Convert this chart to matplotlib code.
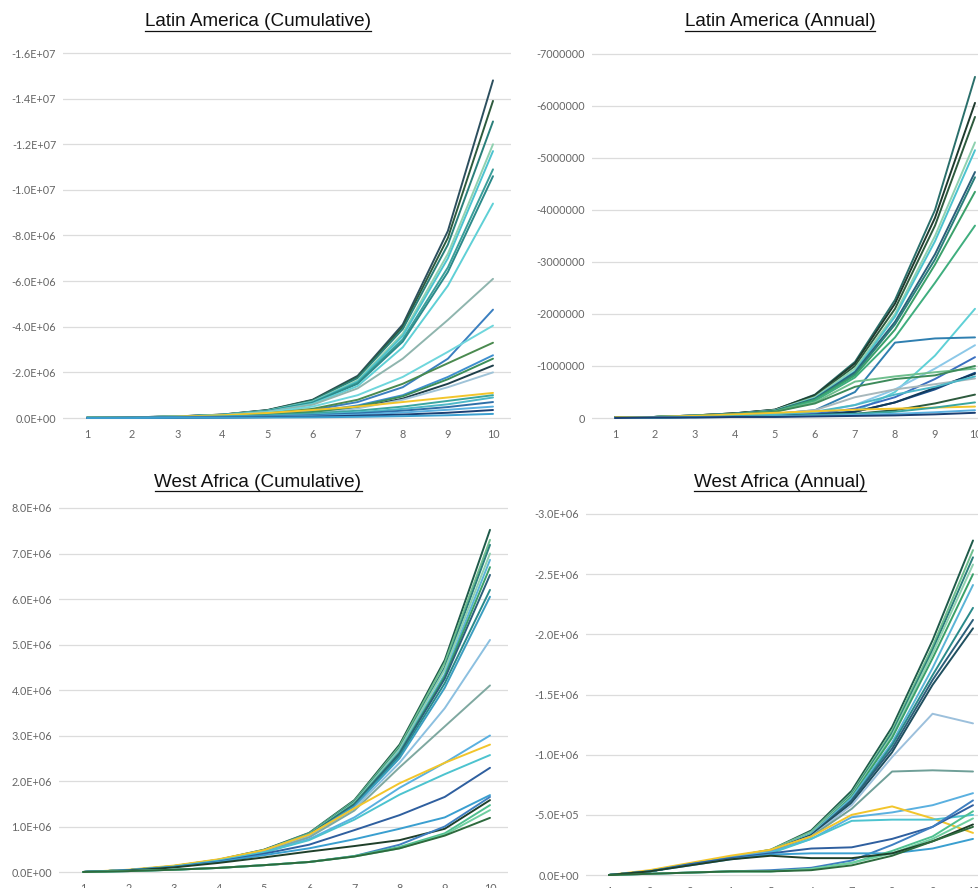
import matplotlib
matplotlib.use("Agg")
import matplotlib.pyplot as plt
from matplotlib.lines import Line2D
import numpy as np

W, H = 979, 888
years = list(range(1, 11))

# values in millions
la_cum = [
    [0.01, 0.03, 0.07, 0.15, 0.35, 0.80, 1.85, 4.10, 8.2, 14.8],
    [0.01, 0.03, 0.07, 0.15, 0.34, 0.78, 1.80, 4.00, 7.9, 13.9],
    [0.01, 0.03, 0.07, 0.14, 0.33, 0.76, 1.75, 3.90, 7.6, 13.0],
    [0.01, 0.03, 0.06, 0.14, 0.32, 0.72, 1.65, 3.70, 7.2, 12.0],
    [0.01, 0.03, 0.06, 0.14, 0.31, 0.70, 1.60, 3.60, 7.0, 11.7],
    [0.01, 0.03, 0.06, 0.13, 0.30, 0.68, 1.55, 3.45, 6.6, 10.9],
    [0.01, 0.03, 0.06, 0.13, 0.30, 0.66, 1.50, 3.35, 6.4, 10.6],
    [0.01, 0.03, 0.06, 0.12, 0.28, 0.62, 1.40, 3.10, 5.8, 9.4],
    [0.01, 0.03, 0.06, 0.12, 0.27, 0.58, 1.30, 2.60, 4.3, 6.1],
    [0.01, 0.02, 0.05, 0.09, 0.18, 0.35, 0.70, 1.35, 2.6, 4.75],
    [0.01, 0.03, 0.06, 0.12, 0.25, 0.50, 1.00, 1.80, 2.9, 4.05],
    [0.01, 0.02, 0.05, 0.10, 0.20, 0.40, 0.80, 1.50, 2.4, 3.3],
    [0.01, 0.02, 0.04, 0.08, 0.15, 0.28, 0.55, 1.00, 1.8, 2.75],
    [0.01, 0.02, 0.04, 0.07, 0.12, 0.22, 0.45, 0.85, 1.5, 2.3],
    [0.01, 0.02, 0.04, 0.07, 0.12, 0.22, 0.42, 0.80, 1.35, 2.0],
    [0.01, 0.02, 0.04, 0.08, 0.14, 0.26, 0.50, 0.95, 1.7, 2.6],
    [0.01, 0.03, 0.06, 0.12, 0.22, 0.35, 0.50, 0.70, 0.9, 1.1],
    [0.01, 0.02, 0.04, 0.07, 0.12, 0.20, 0.32, 0.50, 0.75, 1.0],
    [0.01, 0.02, 0.03, 0.05, 0.09, 0.15, 0.25, 0.40, 0.6, 0.9],
    [0.00, 0.01, 0.02, 0.04, 0.07, 0.12, 0.20, 0.32, 0.48, 0.7],
    [0.00, 0.01, 0.02, 0.03, 0.05, 0.09, 0.15, 0.24, 0.36, 0.5],
    [0.00, 0.01, 0.01, 0.02, 0.04, 0.06, 0.10, 0.15, 0.23, 0.35],
    [0.00, 0.00, 0.01, 0.01, 0.02, 0.03, 0.05, 0.08, 0.12, 0.18],
]
la_cum_colors = ["#2c4f5e", "#2d5a3d", "#2a7f7a", "#8fd1b0", "#4cc3cf", "#3a9e9a",
                 "#2b8a8a", "#5fd0d6", "#8fb5ae", "#3a7fc0", "#6fd6dc", "#4a8a4f",
                 "#3f8fcf", "#1f3f4a", "#9fc3d8", "#3c8f5a", "#f2c52b", "#3aa6a0",
                 "#4db8c8", "#2f6fa8", "#5ab0e0", "#1b3f73", "#3b9fd0"]

la_ann = [
    [0.01, 0.02, 0.05, 0.09, 0.16, 0.45, 1.08, 2.27, 4.00, 6.56],
    [0.01, 0.02, 0.05, 0.09, 0.16, 0.44, 1.05, 2.20, 3.85, 6.06],
    [0.01, 0.02, 0.05, 0.09, 0.15, 0.42, 1.00, 2.10, 3.70, 5.79],
    [0.01, 0.02, 0.05, 0.08, 0.15, 0.40, 0.95, 2.00, 3.50, 5.30],
    [0.01, 0.02, 0.04, 0.08, 0.14, 0.38, 0.90, 1.95, 3.40, 5.15],
    [0.01, 0.02, 0.04, 0.08, 0.14, 0.37, 0.88, 1.85, 3.15, 4.73],
    [0.01, 0.02, 0.04, 0.08, 0.13, 0.36, 0.85, 1.80, 3.05, 4.63],
    [0.01, 0.02, 0.04, 0.07, 0.13, 0.35, 0.82, 1.70, 2.95, 4.35],
    [0.01, 0.02, 0.04, 0.07, 0.12, 0.33, 0.78, 1.55, 2.60, 3.70],
    [0.01, 0.01, 0.02, 0.03, 0.05, 0.07, 0.12, 0.50, 1.20, 2.10],
    [0.01, 0.02, 0.03, 0.05, 0.08, 0.15, 0.50, 1.45, 1.53, 1.55],
    [0.01, 0.01, 0.02, 0.03, 0.05, 0.10, 0.25, 0.55, 0.95, 1.40],
    [0.01, 0.01, 0.02, 0.03, 0.05, 0.08, 0.18, 0.40, 0.75, 1.17],
    [0.01, 0.02, 0.04, 0.07, 0.12, 0.30, 0.70, 0.80, 0.88, 0.95],
    [0.01, 0.02, 0.04, 0.07, 0.12, 0.28, 0.60, 0.75, 0.82, 1.00],
    [0.01, 0.01, 0.02, 0.03, 0.04, 0.06, 0.12, 0.30, 0.55, 0.87],
    [0.01, 0.01, 0.02, 0.03, 0.04, 0.06, 0.12, 0.30, 0.58, 0.85],
    [0.01, 0.02, 0.03, 0.05, 0.08, 0.15, 0.40, 0.55, 0.65, 0.76],
    [0.01, 0.02, 0.03, 0.05, 0.07, 0.12, 0.25, 0.45, 0.60, 0.80],
    [0.01, 0.01, 0.02, 0.02, 0.03, 0.05, 0.08, 0.15, 0.28, 0.45],
    [0.01, 0.02, 0.04, 0.07, 0.10, 0.13, 0.16, 0.18, 0.20, 0.22],
    [0.00, 0.01, 0.02, 0.03, 0.04, 0.06, 0.08, 0.12, 0.20, 0.30],
    [0.00, 0.01, 0.01, 0.02, 0.03, 0.04, 0.06, 0.08, 0.11, 0.15],
    [0.00, 0.01, 0.01, 0.02, 0.02, 0.03, 0.04, 0.05, 0.07, 0.10],
]
la_ann_colors = ["#2a6f6b", "#1f3a2e", "#2d5a3d", "#8fd1b0", "#4cc3cf", "#2c5f7a",
                 "#2a7f7a", "#3aa06a", "#3fae7e", "#5fd0d6", "#2f7fb0", "#8cc8e8",
                 "#3a6fc0", "#6fbf8e", "#3d8a5a", "#1b4f8a", "#123a5a", "#a8b8bc",
                 "#4db8c8", "#2d5a3d", "#f2c52b", "#3aa6a0", "#5ab0e0", "#1b3f73"]

wa_cum = [
    [0, 0.04, 0.13, 0.27, 0.49, 0.86, 1.58, 2.80, 4.66, 7.52],
    [0, 0.04, 0.13, 0.27, 0.48, 0.85, 1.56, 2.76, 4.60, 7.30],
    [0, 0.04, 0.12, 0.26, 0.48, 0.84, 1.54, 2.72, 4.50, 7.19],
    [0, 0.04, 0.12, 0.26, 0.47, 0.83, 1.52, 2.70, 4.45, 7.00],
    [0, 0.04, 0.12, 0.26, 0.47, 0.82, 1.50, 2.65, 4.35, 6.86],
    [0, 0.04, 0.12, 0.25, 0.46, 0.82, 1.50, 2.62, 4.30, 6.70],
    [0, 0.04, 0.12, 0.25, 0.46, 0.81, 1.48, 2.60, 4.25, 6.53],
    [0, 0.04, 0.12, 0.25, 0.45, 0.80, 1.45, 2.55, 4.15, 6.20],
    [0, 0.04, 0.12, 0.25, 0.45, 0.80, 1.44, 2.50, 4.05, 6.05],
    [0, 0.04, 0.12, 0.25, 0.45, 0.78, 1.40, 2.40, 3.60, 5.10],
    [0, 0.04, 0.12, 0.25, 0.44, 0.76, 1.35, 2.30, 3.20, 4.10],
    [0, 0.04, 0.12, 0.25, 0.43, 0.72, 1.20, 1.85, 2.40, 3.00],
    [0, 0.05, 0.14, 0.28, 0.48, 0.82, 1.40, 1.95, 2.40, 2.80],
    [0, 0.04, 0.12, 0.25, 0.43, 0.70, 1.15, 1.70, 2.15, 2.57],
    [0, 0.04, 0.11, 0.23, 0.40, 0.60, 0.92, 1.25, 1.65, 2.29],
    [0, 0.04, 0.11, 0.22, 0.37, 0.52, 0.72, 0.95, 1.20, 1.69],
    [0, 0.03, 0.10, 0.20, 0.32, 0.45, 0.57, 0.70, 0.95, 1.58],
    [0, 0.02, 0.05, 0.09, 0.15, 0.22, 0.35, 0.60, 1.00, 1.65],
    [0, 0.02, 0.05, 0.09, 0.15, 0.22, 0.35, 0.55, 0.85, 1.47],
    [0, 0.02, 0.05, 0.09, 0.15, 0.22, 0.34, 0.52, 0.82, 1.36],
    [0, 0.02, 0.05, 0.09, 0.15, 0.22, 0.34, 0.52, 0.80, 1.19],
]
wa_cum_colors = ["#1f5a4a", "#6fbf8e", "#2a7f7a", "#8fd1b0", "#5ab4d6", "#3aa06a",
                 "#2c5f7a", "#2a8a8a", "#3a9ec0", "#8cc0e0", "#7fa8a0", "#5ab0e0",
                 "#f2c52b", "#4cc3cf", "#2f5f9f", "#3a9fd0", "#1f3f2a", "#3f7fc0",
                 "#4fbf8f", "#6fcfa0", "#2d6a3d"]

wa_ann = [
    [0, 0.03, 0.09, 0.15, 0.21, 0.37, 0.70, 1.23, 1.95, 2.78],
    [0, 0.03, 0.09, 0.15, 0.21, 0.36, 0.68, 1.20, 1.90, 2.70],
    [0, 0.03, 0.09, 0.15, 0.20, 0.35, 0.67, 1.18, 1.87, 2.64],
    [0, 0.03, 0.09, 0.15, 0.20, 0.35, 0.66, 1.16, 1.84, 2.58],
    [0, 0.03, 0.09, 0.15, 0.20, 0.34, 0.65, 1.14, 1.80, 2.50],
    [0, 0.03, 0.09, 0.15, 0.20, 0.34, 0.64, 1.10, 1.72, 2.41],
    [0, 0.03, 0.09, 0.15, 0.20, 0.33, 0.62, 1.08, 1.66, 2.22],
    [0, 0.03, 0.09, 0.15, 0.20, 0.33, 0.62, 1.05, 1.62, 2.12],
    [0, 0.03, 0.09, 0.15, 0.20, 0.33, 0.60, 1.02, 1.58, 2.05],
    [0, 0.03, 0.09, 0.15, 0.20, 0.32, 0.58, 0.98, 1.34, 1.26],
    [0, 0.03, 0.09, 0.15, 0.20, 0.32, 0.55, 0.86, 0.87, 0.86],
    [0, 0.03, 0.09, 0.15, 0.19, 0.30, 0.48, 0.52, 0.58, 0.68],
    [0, 0.04, 0.10, 0.16, 0.21, 0.32, 0.50, 0.57, 0.47, 0.35],
    [0, 0.03, 0.09, 0.14, 0.18, 0.30, 0.45, 0.46, 0.46, 0.50],
    [0, 0.03, 0.09, 0.14, 0.18, 0.22, 0.23, 0.30, 0.40, 0.58],
    [0, 0.01, 0.02, 0.03, 0.04, 0.06, 0.12, 0.25, 0.40, 0.62],
    [0, 0.03, 0.08, 0.13, 0.17, 0.18, 0.18, 0.18, 0.22, 0.30],
    [0, 0.01, 0.02, 0.03, 0.03, 0.05, 0.10, 0.20, 0.32, 0.53],
    [0, 0.01, 0.02, 0.03, 0.03, 0.05, 0.10, 0.18, 0.30, 0.47],
    [0, 0.03, 0.08, 0.13, 0.16, 0.14, 0.14, 0.18, 0.28, 0.42],
    [0, 0.01, 0.02, 0.03, 0.03, 0.04, 0.08, 0.16, 0.28, 0.40],
]
wa_ann_colors = ["#1f5a4a", "#6fbf8e", "#2a7f7a", "#8fd1b0", "#3aa06a", "#5ab4d6",
                 "#2a8a8a", "#2c5f7a", "#1f4f5f", "#9cc0dc", "#6f9f98", "#5ab0e0",
                 "#f2c52b", "#4cc3cf", "#2f5f9f", "#3f7fc0", "#3a9fd0", "#4fbf8f",
                 "#6fcfa0", "#1f3f2a", "#2d6a3d"]

la_cum_ticks = [0, 2e6, 4e6, 6e6, 8e6, 10e6, 12e6, 14e6, 16e6]
la_cum_labels = ["0.0E+00", "-2.0E+06", "-4.0E+06", "-6.0E+06", "-8.0E+06",
                 "-1.0E+07", "-1.2E+07", "-1.4E+07", "-1.6E+07"]
la_ann_ticks = [0, 1e6, 2e6, 3e6, 4e6, 5e6, 6e6, 7e6]
la_ann_labels = ["0", "-1000000", "-2000000", "-3000000", "-4000000",
                 "-5000000", "-6000000", "-7000000"]
wa_cum_ticks = [0, 1e6, 2e6, 3e6, 4e6, 5e6, 6e6, 7e6, 8e6]
wa_cum_labels = ["0.0E+00", "1.0E+06", "2.0E+06", "3.0E+06", "4.0E+06",
                 "5.0E+06", "6.0E+06", "7.0E+06", "8.0E+06"]
wa_ann_ticks = [0, 0.5e6, 1e6, 1.5e6, 2e6, 2.5e6, 3e6]
wa_ann_labels = ["0.0E+00", "-5.0E+05", "-1.0E+06", "-1.5E+06", "-2.0E+06",
                 "-2.5E+06", "-3.0E+06"]

panels = [
    # title, data, colors, ticks, labels, px of x=1, px of x=10, py of 0, py of top tick, xlim left, title pos
    ("Latin America (Cumulative)", la_cum, la_cum_colors, la_cum_ticks, la_cum_labels,
     87, 493, 418, 53, 0.47, (258, 22)),
    ("Latin America (Annual)", la_ann, la_ann_colors, la_ann_ticks, la_ann_labels,
     615, 975, 418, 54, 0.43, (780, 22)),
    ("West Africa (Cumulative)", wa_cum, wa_cum_colors, wa_cum_ticks, wa_cum_labels,
     83, 490, 872, 508, 0.47, (258, 482)),
    ("West Africa (Annual)", wa_ann, wa_ann_colors, wa_ann_ticks, wa_ann_labels,
     609, 973, 875, 514, 0.43, (780, 482)),
]

fig = plt.figure(figsize=(W / 100, H / 100), dpi=100)
tick_font = "Lato"
titles = []

for title, data, colors, ticks, labels, px1, px10, py0, pytop, xl, tpos in panels:
    top = ticks[-1]
    xs = (px10 - px1) / 9.0
    ys = (py0 - pytop) / top
    ylo, yhi = -0.012 * top, top * 1.01
    left = px1 - (1 - xl) * xs
    right = px1 + (10.4 - 1) * xs
    bottom = py0 - ylo * ys
    upper = py0 - yhi * ys
    ax = fig.add_axes([left / W, 1 - bottom / H, (right - left) / W, (bottom - upper) / H])
    for series, c in zip(data, colors):
        ax.plot(years, np.array(series) * 1e6, color=c, lw=1.4, solid_capstyle="round")
    ax.set_xlim(xl, 10.4)
    ax.set_ylim(ylo, yhi)
    ax.set_yticks(ticks)
    ax.set_yticklabels(labels)
    ax.set_xticks(years)
    ax.grid(axis="y", color="#dcdcdc", lw=0.9)
    ax.set_axisbelow(True)
    for s in ax.spines.values():
        s.set_visible(False)
    ax.tick_params(length=0, labelsize=7.8, labelcolor="#666666", pad=5)
    for lab in ax.get_xticklabels() + ax.get_yticklabels():
        lab.set_fontfamily(tick_font)
    t = fig.text(tpos[0] / W, 1 - tpos[1] / H, title, ha="center", va="center",
                 fontsize=13.6, family="Liberation Sans", color="#111111")
    titles.append(t)

# underline the titles
fig.canvas.draw()
r = fig.canvas.get_renderer()
for t in titles:
    bb = t.get_window_extent(renderer=r)
    y = (bb.y0 - 1) / H
    fig.add_artist(Line2D([bb.x0 / W, bb.x1 / W], [y, y], color="#111111", lw=0.9))

fig.savefig("out.png", dpi=100)
